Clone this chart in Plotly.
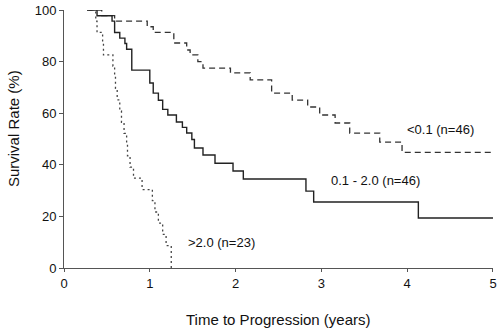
import plotly.graph_objects as go

# <0.1 (n=46) -- dashed
low_t = [0.27, 0.44, 0.59, 0.97, 1.04, 1.28, 1.43, 1.47, 1.56, 1.62, 1.94, 2.17, 2.42, 2.66, 2.84, 2.98, 3.16, 3.33, 3.68, 3.94, 5.0]
low_s = [100, 97.8, 95.7, 93.5, 91.3, 87.2, 84.5, 82.6, 80.0, 77.5, 75.6, 72.9, 67.8, 65.1, 62.4, 59.3, 56.2, 52.3, 48.8, 44.8, 44.8]

# 0.1 - 2.0 (n=46) -- solid
mid_t = [0.27, 0.385, 0.56, 0.59, 0.65, 0.71, 0.73, 0.79, 1.00, 1.04, 1.10, 1.15, 1.21, 1.31, 1.38, 1.43, 1.49, 1.52, 1.62, 1.76, 1.97, 2.09, 2.82, 2.91, 4.13, 5.0]
mid_s = [100, 97.8, 95.7, 91.3, 89.1, 87.0, 84.8, 76.7, 71.7, 67.8, 65.0, 61.5, 59.3, 56.6, 54.5, 52.3, 49.8, 46.5, 43.8, 40.6, 37.6, 34.5, 29.8, 25.6, 19.4, 19.4]

# >2.0 (n=23) -- dotted
high_t = [0.27, 0.37, 0.385, 0.45, 0.46, 0.57, 0.59, 0.60, 0.62, 0.65, 0.67, 0.70, 0.73, 0.74, 0.77, 0.81, 0.91, 1.03, 1.06, 1.10, 1.15, 1.19, 1.25]
high_s = [100, 95.7, 91.3, 87.0, 82.6, 78.3, 73.9, 69.6, 65.2, 60.9, 56.5, 52.2, 47.8, 43.5, 39.1, 34.8, 30.4, 26.1, 21.7, 17.4, 13.0, 8.7, 0]

labels = ["<0.1 (n=46)", "0.1 - 2.0 (n=46)", ">2.0 (n=23)"]
label_x = [3.97, 3.09, 1.42]
label_y = [53.5, 34.0, 9.7]

x_ticks = [0, 1, 2, 3, 4, 5]
y_ticks = [0, 20, 40, 60, 80, 100]

x_title = "Time to Progression (years)"
y_title = "Survival Rate (%)"

FONT = "Liberation Sans, Arial, sans-serif"

fig = go.Figure()
fig.add_trace(go.Scatter(x=low_t, y=low_s, mode="lines", line_shape="hv",
                         line=dict(color="#333333", width=1.3, dash="6px,4px"),
                         cliponaxis=False, showlegend=False, hoverinfo="skip"))
fig.add_trace(go.Scatter(x=mid_t, y=mid_s, mode="lines", line_shape="hv",
                         line=dict(color="#222222", width=1.4),
                         cliponaxis=False, showlegend=False, hoverinfo="skip"))
fig.add_trace(go.Scatter(x=high_t, y=high_s, mode="lines", line_shape="hv",
                         line=dict(color="#444444", width=1.3, dash="2px,3px"),
                         cliponaxis=False, showlegend=False, hoverinfo="skip"))

for txt, lx, ly in zip(labels, label_x, label_y):
    fig.add_annotation(x=lx, y=ly, text=txt, showarrow=False, xanchor="left",
                       yanchor="middle", font=dict(family=FONT, size=13, color="#111111"))

fig.add_annotation(x=0.5, y=-0.20, xref="paper", yref="paper", text=x_title,
                   showarrow=False, xanchor="center", yanchor="middle",
                   font=dict(family=FONT, size=15, color="#111111"))
fig.add_annotation(x=-0.118, y=0.54, xref="paper", yref="paper", text=y_title,
                   showarrow=False, xanchor="center", yanchor="middle", textangle=-90,
                   font=dict(family=FONT, size=15, color="#111111"))

fig.update_layout(
    width=500, height=334,
    margin=dict(l=64, r=7, t=10, b=66),
    plot_bgcolor="white", paper_bgcolor="white",
    font=dict(family=FONT, size=13, color="#111111"),
    xaxis=dict(range=[0, 5.0001], tickvals=x_ticks, showgrid=False, zeroline=False,
               showline=True, linecolor="#555555", linewidth=1, automargin=False,
               ticks="outside", ticklen=3, tickcolor="#555555"),
    yaxis=dict(range=[0, 100.0001], tickvals=y_ticks, showgrid=False, zeroline=False,
               showline=True, linecolor="#555555", linewidth=1, automargin=False,
               ticks="outside", ticklen=4, tickcolor="#555555"),
)

# remove the browser's default 8px body margin so the figure sits at the page origin
fig.write_html("out.html", config={"displayModeBar": False},
               post_script="document.body.style.margin='0';")
